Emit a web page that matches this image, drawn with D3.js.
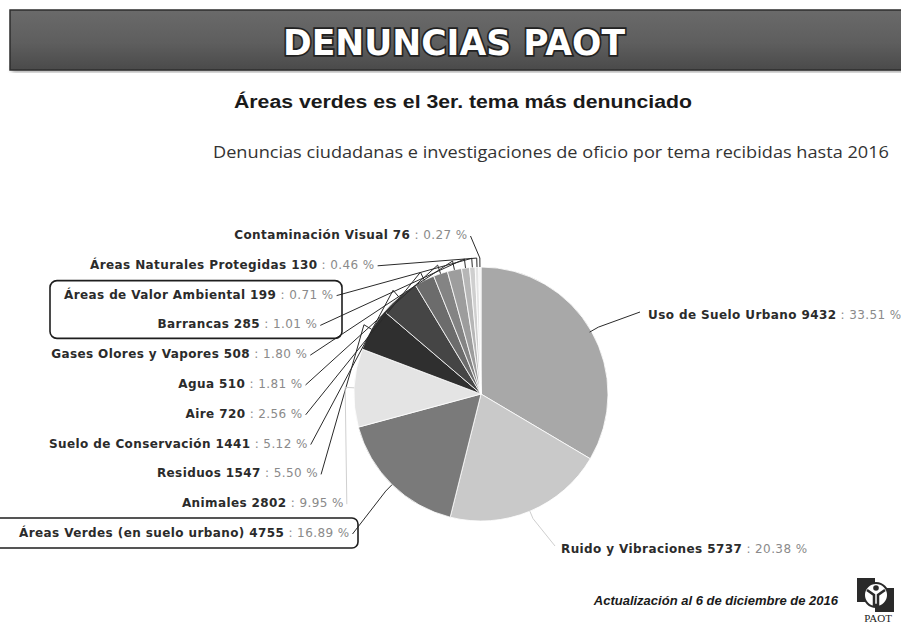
<!DOCTYPE html>
<html>
<head>
<meta charset="utf-8">
<script src="https://cdn.jsdelivr.net/npm/d3@7"></script>
<style>
  body { margin: 0; background: #fff; }
  svg { display: block; }
</style>
</head>
<body>
<svg id="chart"></svg>
<script>
const width = 901;
const height = 633;

// data, in slice order (clockwise from 12 o'clock)
const temas = [
  "Uso de Suelo Urbano",
  "Ruido y Vibraciones",
  "Áreas Verdes (en suelo urbano)",
  "Animales",
  "Residuos",
  "Suelo de Conservación",
  "Aire",
  "Agua",
  "Gases Olores y Vapores",
  "Barrancas",
  "Áreas de Valor Ambiental",
  "Áreas Naturales Protegidas",
  "Contaminación Visual"
];
const denuncias = [9432, 5737, 4755, 2802, 1547, 1441, 720, 510, 508, 285, 199, 130, 76];
const porcentajes = ["33.51", "20.38", "16.89", "9.95", "5.50", "5.12", "2.56", "1.81", "1.80", "1.01", "0.71", "0.46", "0.27"];

const grises = ["#a8a8a8", "#c9c9c9", "#7a7a7a", "#e4e4e4", "#2f2f2f", "#454545",
  "#6c6c6c", "#848484", "#9d9d9d", "#b6b6b6", "#cfcfcf", "#e4e4e4", "#f0f0f0"];

const data = temas.map((t, i) => ({ tema: t, n: denuncias[i], pct: porcentajes[i], color: grises[i] }));

const svg = d3.select("#chart").attr("width", width).attr("height", height);

// ---- banner ----
const defs = svg.append("defs");
const grad = defs.append("linearGradient").attr("id", "banner").attr("x1", 0).attr("y1", 0).attr("x2", 0).attr("y2", 1);
grad.append("stop").attr("offset", "0%").attr("stop-color", "#6a6a6a");
grad.append("stop").attr("offset", "55%").attr("stop-color", "#5e5e5e");
grad.append("stop").attr("offset", "100%").attr("stop-color", "#4a4a4a");
defs.append("filter").attr("id", "blur").append("feGaussianBlur").attr("stdDeviation", 2);

svg.append("rect").attr("x", 12).attr("y", 66).attr("width", 900).attr("height", 6)
  .attr("fill", "#9a9a9a").attr("filter", "url(#blur)");
svg.append("rect").attr("x", 10).attr("y", 10).attr("width", 900).attr("height", 60)
  .attr("fill", "url(#banner)").attr("stroke", "#2e2e2e").attr("stroke-width", 1.5);

svg.append("text")
  .attr("x", 454).attr("y", 55)
  .attr("text-anchor", "middle")
  .style("font-family", "'DejaVu Sans', 'Liberation Sans', sans-serif")
  .style("font-weight", "bold")
  .style("font-size", "36px")
  .attr("fill", "#fff").attr("stroke", "#222").attr("stroke-width", 3.5)
  .attr("paint-order", "stroke")
  .attr("textLength", 342).attr("lengthAdjust", "spacingAndGlyphs")
  .text("DENUNCIAS PAOT");

svg.append("text")
  .attr("x", 463).attr("y", 108)
  .attr("text-anchor", "middle")
  .style("font-family", "'Liberation Sans', Arial, sans-serif")
  .style("font-weight", "bold")
  .style("font-size", "18px")
  .attr("fill", "#1a1a1a")
  .attr("textLength", 458).attr("lengthAdjust", "spacingAndGlyphs")
  .text("Áreas verdes es el 3er. tema más denunciado");

svg.append("text")
  .attr("x", 551).attr("y", 158)
  .attr("text-anchor", "middle")
  .style("font-family", "'Open Sans', 'Noto Sans', sans-serif")
  .style("font-size", "17px")
  .attr("fill", "#333")
  .attr("textLength", 676).attr("lengthAdjust", "spacingAndGlyphs")
  .text("Denuncias ciudadanas e investigaciones de oficio por tema recibidas hasta 2016");

// ---- pie ----
const cx = 481, cy = 394, r = 127;
const pie = d3.pie().value(d => d.n).sort(null);
const arc = d3.arc().innerRadius(0).outerRadius(r);
const arcs = pie(data);

const g = svg.append("g").attr("transform", `translate(${cx},${cy})`);
g.selectAll("path.slice")
  .data(arcs)
  .join("path")
  .attr("class", "slice")
  .attr("d", arc)
  .attr("fill", d => d.data.color)
  .attr("stroke", "#fff")
  .attr("stroke-width", 0.8);

// ---- labels ----
const labelFont = "'DejaVu Sans', Verdana, sans-serif";
const mid = d => (d.startAngle + d.endAngle) / 2;
const onCircle = (a, rad) => [cx + rad * Math.sin(a), cy - rad * Math.cos(a)];

// left labels, top to bottom (smallest slices first)
const leftArcs = arcs.slice(2).reverse();
const rowY = d3.scaleLinear().domain([0, leftArcs.length - 1]).range([235, 533]);
const nudge = { "Contaminación Visual": 68, "Áreas Naturales Protegidas": 16, "Animales": 9, "Áreas Verdes (en suelo urbano)": -11 };
const R = 185, ecx = 487, ecy = 398;
leftArcs.forEach((d, i) => {
  const y = rowY(i);
  const dy = Math.min(Math.abs(y - ecy), R);
  d.lx = ecx - Math.sqrt(R * R - dy * dy) + (nudge[d.data.tema] || 0);
  d.ly = y;
});

function addLabel(d, x, y, anchor) {
  const t = svg.append("text")
    .attr("x", x).attr("y", y + 4)
    .attr("text-anchor", anchor)
    .style("font-family", labelFont)
    .style("font-size", "12px")
    .style("letter-spacing", "0.4px");
  t.append("tspan").attr("fill", "#2b2b2b").style("font-weight", "bold")
    .text(`${d.data.tema} ${d.data.n}`);
  t.append("tspan").attr("fill", "#8a8a8a")
    .text(` : ${d.data.pct} %`);
}

const lines = svg.append("g").attr("fill", "none").attr("stroke", "#2a2a2a").attr("stroke-width", 1);

leftArcs.forEach(d => {
  addLabel(d, d.lx, d.ly, "end");
  const a = mid(d);
  const p1 = onCircle(a, r + 9);
  const p2 = onCircle(a, r);
  lines.append("polyline")
    .attr("points", [[d.lx + 3, d.ly + 1], p1, p2].map(p => p.join(",")).join(" "))
    .attr("stroke", d.data.tema === "Animales" ? "#d0d0d0" : "#2a2a2a");
});

// right labels
const uso = arcs[0], ruido = arcs[1];
addLabel(uso, 648, 315, "start");
{
  const a = mid(uso);
  lines.append("polyline")
    .attr("points", [onCircle(a, r - 2), onCircle(a, r + 8), [640, 312]].map(p => p.join(",")).join(" "));
}
addLabel(ruido, 561, 549, "start");
{
  const a = mid(ruido);
  lines.append("polyline").attr("stroke", "#cfcfcf")
    .attr("points", [onCircle(a, r), onCircle(a, r + 8), [555, 546]].map(p => p.join(",")).join(" "));
}

// highlight boxes
const boxes = svg.append("g").attr("fill", "none").attr("stroke", "#1e1e1e").attr("stroke-width", 1.6);
const ava = leftArcs.find(d => d.data.tema === "Áreas de Valor Ambiental");
const bar = leftArcs.find(d => d.data.tema === "Barrancas");
boxes.append("rect").attr("x", 50).attr("y", ava.ly - 14).attr("width", 292)
  .attr("height", bar.ly - ava.ly + 28).attr("rx", 7);
const ver = leftArcs.find(d => d.data.tema === "Áreas Verdes (en suelo urbano)");
boxes.append("rect").attr("x", -8).attr("y", ver.ly - 15).attr("width", 366)
  .attr("height", 30).attr("rx", 6);

// ---- footer ----
svg.append("text")
  .attr("x", 838).attr("y", 605)
  .attr("text-anchor", "end")
  .style("font-family", "'Liberation Sans', Arial, sans-serif")
  .style("font-weight", "bold").style("font-style", "italic")
  .style("font-size", "13px")
  .attr("fill", "#1a1a1a")
  .text("Actualización al 6 de diciembre de 2016");

// PAOT logo (simplified)
const logo = svg.append("g").attr("transform", "translate(857,578)");
logo.append("path").attr("d", "M0,0 H18 V10 H37 V34 H18 V24 H0 Z").attr("fill", "#2a2a2a");
logo.append("circle").attr("cx", 19).attr("cy", 17).attr("r", 12).attr("fill", "#fff").attr("stroke", "#2a2a2a").attr("stroke-width", 2);
logo.append("circle").attr("cx", 19).attr("cy", 10).attr("r", 2.8).attr("fill", "#2a2a2a");
logo.append("path").attr("d", "M10,12 L17,17 V27 H21 V17 L28,12").attr("fill", "none").attr("stroke", "#2a2a2a").attr("stroke-width", 2.5);
logo.append("text").attr("x", 21).attr("y", 44).attr("text-anchor", "middle")
  .style("font-family", "'Liberation Serif', serif").style("font-size", "11px")
  .attr("fill", "#222").text("PAOT");
</script>
</body>
</html>
